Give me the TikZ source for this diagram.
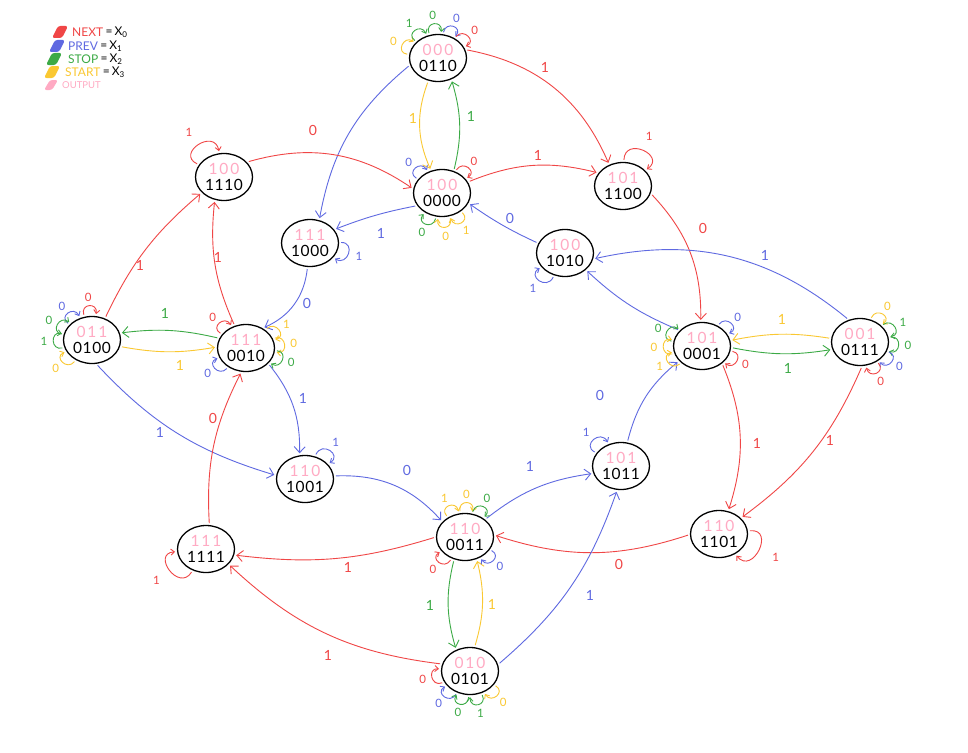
\documentclass[tikz,border=0pt]{standalone}
\usepackage{fontspec}
\setmainfont{Lato}
\usetikzlibrary{arrows.meta,shapes.geometric,calc}
\definecolor{cR}{RGB}{240,70,70}
\definecolor{cB}{RGB}{95,105,225}
\definecolor{cG}{RGB}{60,170,70}
\definecolor{cY}{RGB}{250,200,50}
\definecolor{cP}{RGB}{255,170,195}
\tikzset{
 st/.style={ellipse, draw=black, line width=1.3pt, minimum width=57pt, minimum height=47pt, inner sep=0pt, align=center, font=\fontsize{15.5}{16}\selectfont\addfontfeatures{LetterSpace=4}},
 tr/.style={line width=0.9pt, -{Straight Barb[length=6pt,width=11pt]}, shorten >=2pt, shorten <=2pt},
 lp/.style={line width=0.9pt, -{Straight Barb[length=3.5pt,width=6pt]}},
 lbl/.style={font=\fontsize{14}{14}\selectfont, inner sep=0pt},
 llbl/.style={font=\fontsize{11.5}{12}\selectfont, inner sep=0pt},
 leg/.style={font=\fontsize{12}{12}\selectfont, inner sep=0pt, anchor=west},
}
\newcommand\outp[1]{\textcolor{cP}{\addfontfeatures{LetterSpace=12}#1}}
\newcommand\selfloop[5]{%
 \pgfmathtruncatemacro\aA{mod(#2+1.1*#5+360,360)}%
 \pgfmathtruncatemacro\aB{mod(#2-1.1*#5+360,360)}%
 \pgfmathtruncatemacro\aC{mod(#2+360,360)}%
 \pgfmathsetmacro\dd{#5+7}%
 \draw[lp,#3] ($(#1.\aA)+(\aA:2pt)$) .. controls +(\aA:#5pt) and +(\aB:#5pt) .. ($(#1.\aB)+(\aB:2pt)$);
 \node[llbl,text=#3] (#1-\aC) at ($(#1.\aC)+(\aC:\dd pt)$) {#4};}
\begin{document}
\begin{tikzpicture}[x=1pt,y=1pt]
\fill[white] (0,0) rectangle (968,-752);
\useasboundingbox (0,0) rectangle (968,-752);

% legend
\fill[cR, rounded corners=2.5pt] (52,-38) -- (58,-26) -- (68,-26) -- (62,-38) -- cycle;
\fill[cB, rounded corners=2.5pt] (49,-52) -- (55,-40) -- (65,-40) -- (59,-52) -- cycle;
\fill[cG, rounded corners=2.5pt] (46,-65) -- (52,-53) -- (62,-53) -- (56,-65) -- cycle;
\fill[cY, rounded corners=2.5pt] (44,-78) -- (50,-66) -- (60,-66) -- (54,-78) -- cycle;
\fill[cP, rounded corners=2.5pt] (44,-90) -- (50,-80) -- (58,-80) -- (52,-90) -- cycle;
\node[leg,text=cR] (lg0) at (72,-32) {NEXT};
\node[leg] (lg0x) at (lg0.east) {\,=\,X\textsubscript{0}};
\node[leg,text=cB] (lg1) at (68,-46) {PREV};
\node[leg] (lg1x) at (lg1.east) {\,=\,X\textsubscript{1}};
\node[leg,text=cG] (lg2) at (68,-59) {STOP};
\node[leg] (lg2x) at (lg2.east) {\,=\,X\textsubscript{2}};
\node[leg,text=cY] (lg3) at (65,-72) {START};
\node[leg] (lg3x) at (lg3.east) {\,=\,X\textsubscript{3}};
\node[leg,text=cP,font=\fontsize{9.5}{10}\selectfont] (lg4) at (62,-85) {OUTPUT};

% states
\node[st] (s0110) at (438,-58) {\outp{000}\\0110};
\node[st] (s0000) at (442,-193) {\outp{100}\\0000};
\node[st] (s1110) at (224,-177) {\outp{100}\\1110};
\node[st] (s1000) at (310,-243) {\outp{111}\\1000};
\node[st] (s1100) at (623,-186) {\outp{101}\\1100};
\node[st] (s1010) at (565,-253) {\outp{100}\\1010};
\node[st] (s0100) at (92,-340) {\outp{011}\\0100};
\node[st] (s0010) at (246,-348) {\outp{111}\\0010};
\node[st] (s0001) at (702,-346) {\outp{101}\\0001};
\node[st] (s0111) at (860,-342) {\outp{001}\\0111};
\node[st] (s1001) at (305,-479) {\outp{110}\\1001};
\node[st] (s0011) at (465,-537) {\outp{110}\\0011};
\node[st] (s1011) at (621,-466) {\outp{101}\\1011};
\node[st] (s1101) at (719,-534) {\outp{110}\\1101};
\node[st] (s1111) at (206,-549) {\outp{111}\\1111};
\node[st] (s0101) at (470,-671) {\outp{010}\\0101};

% transitions
\draw[tr,cR] (s0110.17) to[bend left=28] (s1100.123);
\draw[tr,cB] (s0110.194) to[bend right=20] (s1000.68);
\draw[tr,cY] (s0110.247) to[bend right=22] (s0000.116);
\draw[tr,cG] (s0000.62) to[bend right=15] (s0110.302);
\draw[tr,cR] (s1110.33) to[bend left=25] (s0000.172);
\draw[tr,cR] (s0000.23) to[bend left=18] (s1100.152);
\draw[tr,cB] (s0000.207) to[bend right=5] (s1000.29);
\draw[tr,cB] (s1010.160) to[bend left=5] (s0000.339);
\draw[tr,cR] (s1100.345) to[bend left=22] (s0001.93);
\draw[tr,cB] (s0111.117) to[bend right=26] (s1010.348);
\draw[tr,cB] (s0001.145) to[bend left=10] (s1010.321);
\draw[tr,cB] (s1000.264) to[bend left=30] (s0010.50);
\draw[tr,cR] (s0100.59) to[bend left=12] (s1110.215);
\draw[tr,cR] (s0010.117) to[bend left=15] (s1110.248);
\draw[tr,cG] (s0010.160) to[bend right=10] (s0100.14);
\draw[tr,cY] (s0100.347) to[bend right=10] (s0010.178);
\draw[tr,cB] (s0010.325) to[bend left=20] (s1001.103);
\draw[tr,cB] (s0100.280) to[bend right=15] (s1001.173);
\draw[tr,cB] (s1001.6) to[bend left=25] (s0011.146);
\draw[tr,cB] (s0011.41) to[bend left=15] (s1011.195);
\draw[tr,cB] (s1011.75) to[bend left=18] (s0001.213);
\draw[tr,cG] (s0001.357) to[bend right=10] (s0111.195);
\draw[tr,cY] (s0111.173) to[bend right=10] (s0001.11);
\draw[tr,cR] (s0001.319) to[bend left=20] (s1101.68);
\draw[tr,cR] (s0111.275) to[bend left=15] (s1101.36);
\draw[tr,cR] (s1101.181) to[bend left=18] (s0011.4);
\draw[tr,cR] (s0011.180) to[bend left=12] (s1111.348);
\draw[tr,cR] (s0101.166) to[bend left=18] (s1111.326);
\draw[tr,cB] (s0101.13) to[bend right=15] (s1011.261);
\draw[tr,cG] (s0011.244) to[bend right=15] (s0101.123);
\draw[tr,cY] (s0101.79) to[bend right=15] (s0011.298);
\draw[tr,cR] (s1111.82) to[bend left=15] (s0010.259);

% transition labels
\node[lbl,text=cR] (t1) at (545,-67) {1};
\node[lbl,text=cY] (t3) at (413,-118) {1};
\node[lbl,text=cG] (t4) at (471,-116) {1};
\node[lbl,text=cR] (t5) at (313,-130) {0};
\node[lbl,text=cR] (t6) at (538,-155) {1};
\node[lbl,text=cB] (t7) at (381,-233) {1};
\node[lbl,text=cB] (t8) at (510,-218) {0};
\node[lbl,text=cR] (t9) at (703,-228) {0};
\node[lbl,text=cB] (t10) at (765,-255) {1};
\node[lbl,text=cB] (t12) at (307,-303) {0};
\node[lbl,text=cR] (t13) at (140,-265) {1};
\node[lbl,text=cR] (t14) at (218,-257) {1};
\node[lbl,text=cG] (t15) at (165,-313) {1};
\node[lbl,text=cY] (t16) at (180,-365) {1};
\node[lbl,text=cB] (t17) at (303,-398) {1};
\node[lbl,text=cB] (t18) at (160,-432) {1};
\node[lbl,text=cB] (t19) at (407,-470) {0};
\node[lbl,text=cB] (t20) at (530,-466) {1};
\node[lbl,text=cB] (t21) at (600,-395) {0};
\node[lbl,text=cG] (t22) at (788,-368) {1};
\node[lbl,text=cY] (t23) at (782,-319) {1};
\node[lbl,text=cR] (t24) at (757,-443) {1};
\node[lbl,text=cR] (t25) at (830,-440) {1};
\node[lbl,text=cR] (t26) at (619,-564) {0};
\node[lbl,text=cR] (t27) at (348,-567) {1};
\node[lbl,text=cR] (t28) at (328,-655) {1};
\node[lbl,text=cB] (t29) at (590,-595) {1};
\node[lbl,text=cG] (t30) at (430,-605) {1};
\node[lbl,text=cY] (t31) at (492,-604) {1};
\node[lbl,text=cR] (t32) at (213,-418) {0};

% self loops
\selfloop{s0110}{160}{cY}{0}{12}
\selfloop{s0110}{130}{cG}{1}{12}
\selfloop{s0110}{97}{cG}{0}{12}
\selfloop{s0110}{65}{cB}{0}{12}
\selfloop{s0110}{37}{cR}{0}{12}
\selfloop{s0000}{137}{cB}{0}{12}
\selfloop{s0000}{45}{cR}{0}{12}
\selfloop{s0000}{243}{cG}{0}{12}
\selfloop{s0000}{275}{cY}{0}{12}
\selfloop{s0000}{303}{cY}{1}{12}
\selfloop{s1110}{128}{cR}{1}{24}
\selfloop{s1000}{-15}{cB}{1}{15}
\selfloop{s1100}{62}{cR}{1}{24}
\selfloop{s1010}{228}{cB}{1}{15}
\selfloop{s0100}{95}{cR}{0}{12}
\selfloop{s0100}{132}{cB}{0}{12}
\selfloop{s0100}{156}{cG}{0}{12}
\selfloop{s0100}{182}{cG}{1}{12}
\selfloop{s0100}{218}{cY}{0}{12}
\selfloop{s0010}{137}{cR}{0}{12}
\selfloop{s0010}{30}{cY}{1}{12}
\selfloop{s0010}{6}{cY}{0}{12}
\selfloop{s0010}{-18}{cG}{0}{12}
\selfloop{s0010}{214}{cB}{0}{12}
\selfloop{s0001}{39}{cB}{0}{12}
\selfloop{s0001}{158}{cG}{0}{12}
\selfloop{s0001}{182}{cY}{0}{12}
\selfloop{s0001}{206}{cY}{1}{12}
\selfloop{s0001}{-23}{cR}{0}{12}
\selfloop{s0111}{52}{cY}{0}{12}
\selfloop{s0111}{24}{cG}{1}{12}
\selfloop{s0111}{-4}{cG}{0}{12}
\selfloop{s0111}{-32}{cB}{0}{12}
\selfloop{s0111}{-62}{cR}{0}{12}
\selfloop{s1001}{50}{cB}{1}{15}
\selfloop{s0011}{118}{cY}{1}{12}
\selfloop{s0011}{88}{cY}{0}{12}
\selfloop{s0011}{60}{cG}{0}{12}
\selfloop{s0011}{225}{cR}{0}{12}
\selfloop{s0011}{-40}{cB}{0}{12}
\selfloop{s1011}{136}{cB}{1}{15}
\selfloop{s1101}{-22}{cR}{1}{26}
\selfloop{s1111}{212}{cR}{1}{24}
\selfloop{s0101}{190}{cR}{0}{12}
\selfloop{s0101}{226}{cB}{0}{12}
\selfloop{s0101}{254}{cG}{0}{12}
\selfloop{s0101}{284}{cG}{1}{12}
\selfloop{s0101}{317}{cY}{0}{12}
\end{tikzpicture}
\end{document}
